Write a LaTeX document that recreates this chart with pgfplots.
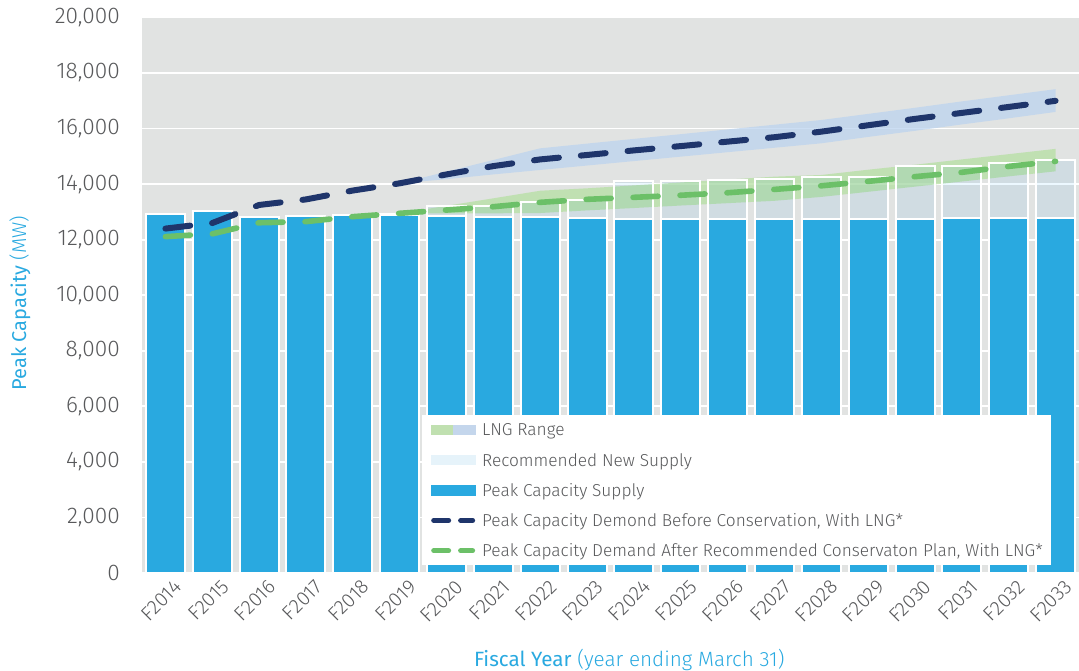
\documentclass[border=0pt]{standalone}
\usepackage{pgfplots}
\pgfplotsset{compat=1.18}
\usepackage{pgfplotstable}
\usepgfplotslibrary{fillbetween}
\usepackage{fontspec}
\setmainfont{Fira Sans Light}
\newfontfamily\regfont{Fira Sans}

\definecolor{barblue}{RGB}{41,169,224}
\definecolor{bggray}{RGB}{225,227,226}
\definecolor{navy}{RGB}{31,53,107}
\definecolor{lgreen}{RGB}{108,192,104}
\definecolor{gband}{RGB}{182,223,162}
\definecolor{bband}{RGB}{188,212,239}
\definecolor{newsup}{RGB}{236,248,255}
\definecolor{txtgray}{RGB}{88,89,91}
\definecolor{swgreen}{RGB}{192,224,176}
\definecolor{swblue}{RGB}{196,214,236}
\definecolor{swnew}{RGB}{230,243,250}

% idx: 0 = F2014 ... 19 = F2033
\pgfplotstableread{
idx supply total before after
0  12940 12940 12400 12110
1  13050 13050 12600 12210
2  12830 12830 13250 12610
3  12860 12860 13450 12650
4  12900 12900 13770 12830
5  12880 12920 14030 12950
6  12850 13210 14350 13068
7  12830 13210 14650 13188
8  12800 13345 14890 13345
9  12770 13440 15050 13453
10 12750 14110 15215 13525
11 12750 14130 15370 13600
12 12750 14150 15530 13690
13 12750 14195 15690 13810
14 12745 14258 15890 13940
15 12745 14258 16120 14100
16 12750 14667 16350 14270
17 12765 14667 16565 14425
18 12770 14750 16780 14640
19 12780 14883 17000 14820
}\mainT

% LNG ranges
\pgfplotstableread{
idx bup blo gup glo
5  14030 14030 12950 12950
6  14450 14180 13220 12950
7  14870 14350 13490 12950
8  15290 14510 13763 12960
9  15460 14670 13850 13055
10 15630 14830 13955 13140
11 15800 14990 14060 13230
12 15970 15150 14165 13315
13 16140 15310 14270 13400
14 16310 15470 14330 13540
15 16530 15700 14520 13725
16 16750 15920 14700 13910
17 16980 16150 14890 14095
18 17200 16370 15080 14280
19 17420 16600 15270 14462
}\bandT

\begin{document}
\begin{tikzpicture}
\begin{axis}[
  at={(0pt,0pt)}, anchor=south west,
  scale only axis, width=702.75pt, height=416.625pt,
  xmin=-0.5, xmax=19.5, ymin=0, ymax=20000,
  axis background/.style={fill=bggray},
  axis line style={draw=none},
  major tick length=0pt,
  ytick={0,2000,...,20000},
  scaled y ticks=false,
  ymajorgrids, grid style={white, line width=1.3pt},
  xtick={0,...,19},
  xticklabels={F2014,F2015,F2016,F2017,F2018,F2019,F2020,F2021,F2022,F2023,F2024,F2025,F2026,F2027,F2028,F2029,F2030,F2031,F2032,F2033},
  /pgf/number format/assume math mode=true,
  yticklabel style={font=\fontsize{17}{17}\selectfont, text=txtgray, anchor=east, inner sep=0pt, xshift=-16.5pt},
  xticklabel style={font=\fontsize{15}{15}\selectfont, text=txtgray, rotate=45, anchor=north east, inner sep=0pt, yshift=-7pt, xshift=1.5pt},
  ylabel={{\regfont Peak Capacity} (MW)},
  ylabel style={at={(axis description cs:-0.1302,0.486)}, anchor=center, font=\fontsize{15}{15}\selectfont, text=barblue},
  xlabel={{\regfont Fiscal Year} (year ending March 31)},
  xlabel style={at={(axis description cs:0.52,-0.1566)}, anchor=center, font=\fontsize{15.5}{15.5}\selectfont, text=barblue},
  legend cell align=left,
  legend style={at={(0.2988,0.0135)}, anchor=south west, fill=white, draw=none,
    font=\fontsize{12.95}{12.95}\selectfont, text=txtgray,
    inner xsep=6.5pt, inner ysep=3pt, row sep=6.9pt, column sep=5pt,
    nodes={inner sep=0pt, text height=12.5pt, text depth=3.3pt}},
]
% LNG range bands
\addplot[draw=none, name path=bu, forget plot] table[x=idx, y=bup] {\bandT};
\addplot[draw=none, name path=bl, forget plot] table[x=idx, y=blo] {\bandT};
\addplot[fill=bband, fill opacity=0.75, forget plot] fill between[of=bu and bl];
\addplot[draw=none, name path=gu, forget plot] table[x=idx, y=gup] {\bandT};
\addplot[draw=none, name path=gl, forget plot] table[x=idx, y=glo] {\bandT};
\addplot[fill=gband, fill opacity=0.75, forget plot] fill between[of=gu and gl];

% recommended new supply (full height, multiplied over bands)
\addplot[ybar, bar width=29.25pt, bar shift=0pt, fill=newsup, draw=none,
  blend mode=multiply, forget plot] table[x=idx, y=total] {\mainT};
% peak capacity supply
\addplot[ybar, bar width=29.25pt, bar shift=0pt, fill=barblue, draw=white,
  line width=1.5pt, forget plot] table[x=idx, y=supply] {\mainT};
% outlines of new supply boxes
\addplot[ybar, bar width=29.25pt, bar shift=0pt, fill=none, draw=white,
  line width=1.5pt, forget plot] table[x=idx, y=total] {\mainT};

% demand lines
\addplot[navy, line width=4.5pt, line cap=round, line join=round,
  dash pattern=on 18.75pt off 16.5pt, mark=none, forget plot] table[x=idx, y=before] {\mainT};
\addplot[lgreen, line width=4.2pt, line cap=round, line join=round,
  dash pattern=on 18.75pt off 16.5pt, mark=none, forget plot] table[x=idx, y=after] {\mainT};

% legend
\addlegendimage{legend image code/.code={
  \fill[swgreen] (0pt,-3.5pt) rectangle (16.5pt,3.5pt);
  \fill[swblue] (16.5pt,-3.5pt) rectangle (33pt,3.5pt);}}
\addlegendentry{LNG Range}
\addlegendimage{legend image code/.code={
  \fill[swnew] (0pt,-3.5pt) rectangle (33pt,3.5pt);}}
\addlegendentry{Recommended New Supply}
\addlegendimage{legend image code/.code={
  \fill[barblue] (0pt,-3.5pt) rectangle (33pt,3.5pt);}}
\addlegendentry{Peak Capacity Supply}
\addlegendimage{legend image code/.code={
  \draw[navy, line width=3.75pt, line cap=round] (1.9pt,0pt) -- (13.1pt,0pt);
  \draw[navy, line width=3.75pt, line cap=round] (22.1pt,0pt) -- (31.1pt,0pt);}}
\addlegendentry{Peak Capacity Demond Before Conservation, With LNG*}
\addlegendimage{legend image code/.code={
  \draw[lgreen, line width=3.75pt, line cap=round] (1.9pt,0pt) -- (13.1pt,0pt);
  \draw[lgreen, line width=3.75pt, line cap=round] (22.1pt,0pt) -- (31.1pt,0pt);}}
\addlegendentry{Peak Capacity Demand After Recommended Conservaton Plan, With LNG*}
\end{axis}
\pgfresetboundingbox
\path[use as bounding box] (-106.5pt,-73.5pt) rectangle (702.75pt,429.75pt);
\end{tikzpicture}
\end{document}
